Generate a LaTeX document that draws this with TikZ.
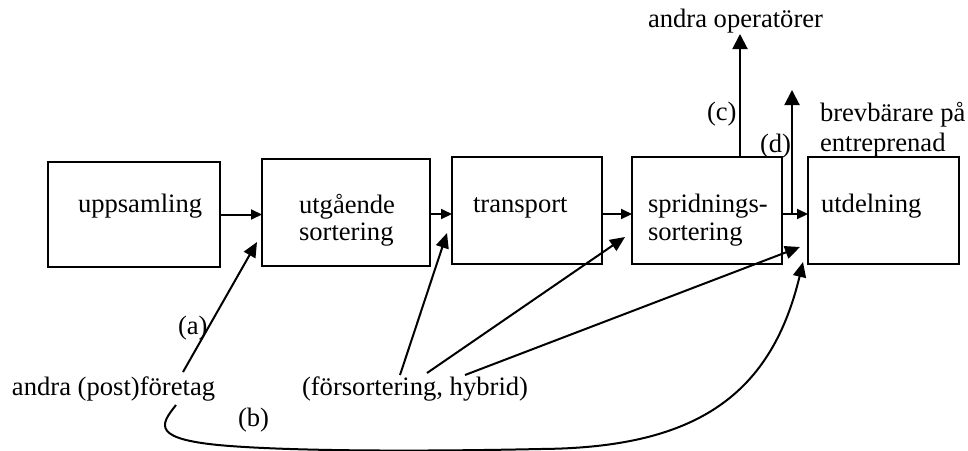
\documentclass[tikz,border=0pt]{standalone}
\usepackage{fontspec}
\setmainfont{Liberation Serif}
\usetikzlibrary{arrows.meta}
\begin{document}
\begin{tikzpicture}[x=1pt,y=-1pt,
  every node/.style={font=\fontsize{26.6}{30}\selectfont},
  box/.style={draw,line width=2.2pt,inner sep=0pt,outer sep=0pt},
  lbl/.style={anchor=base west,inner sep=0pt,outer sep=0pt},
  flow/.style={line width=2pt,-{Triangle[length=11pt,width=10pt]}},
  feed/.style={line width=2pt,-{Triangle[length=15pt,width=13pt]}},
  branch/.style={line width=2pt,-{Triangle[length=15pt,width=15pt]}}]
\useasboundingbox (0,0) rectangle (968,450);

% process boxes
\node[box,minimum width=172pt,minimum height=105pt] (up)  at (134,214.5) {};
\node[box,minimum width=168pt,minimum height=107pt] (utg) at (346,212.5) {};
\node[box,minimum width=150pt,minimum height=107pt] (tra) at (527,210.5) {};
\node[box,minimum width=150pt,minimum height=107pt] (spr) at (707,210.5) {};
\node[box,minimum width=151pt,minimum height=107pt] (utd) at (883.5,210.5) {};

% box texts
\node[lbl] (t-up)  at (78,212)  {uppsamling};
\node[lbl] (t-utg) at (299,213) {utgående};
\node[lbl] (t-utg2) at (299,240) {sortering};
\node[lbl] (t-tra) at (473,212) {transport};
\node[lbl] (t-spr) at (648,212) {spridnings-};
\node[lbl] (t-spr2) at (648,240) {sortering};
\node[lbl] (t-utd) at (821,212) {utdelning};

% outside labels
\node[lbl] (ops)  at (648,27)  {andra operatörer};
\node[lbl] (brev) at (820,121) {brevbärare på};
\node[lbl] (entr) at (820,151) {entreprenad};
\node[lbl] (lc)   at (707,120) {(c)};
\node[lbl] (ld)   at (760,152) {(d)};
\node[lbl] (la)   at (178,334) {(a)};
\node[lbl] (lb)   at (238,426) {(b)};
\node[lbl] (post) at (12,395)  {andra (post)företag};
\node[lbl] (fors) at (302,395) {(försortering, hybrid)};

% main flow
\path (up.east)  coordinate (h1);
\path (utg.east) ++(0,1.5) coordinate (h2);
\path (tra.east) ++(0,3.5) coordinate (h3);
\path (spr.east) ++(0,3.5) coordinate (h4);
\draw[flow] (h1) -- (h1 -| utg.west);
\draw[flow] (h2) -- (h2 -| tra.west);
\draw[flow] (h3) -- (h3 -| spr.west);
\draw[flow] (h4) -- (h4 -| utd.west);

% branches to other operators (c) and contractors (d)
\coordinate (c0) at (740,157);
\coordinate (c1) at (740,34);
\coordinate (d0) at (792,214);
\coordinate (d1) at (792,90);
\draw[branch] (c0) -- (c1);
\draw[branch] (d0) -- (d1);

% entries from other companies (a), (b)
\coordinate (a0) at (183,372);
\coordinate (a1) at (257,242);
\draw[feed] (a0) -- (a1);
\coordinate (b0) at (176,405);
\coordinate (b1) at (803,262);
\draw[feed] (b0) .. controls (160,425) and (150,440) .. (230,446)
  .. controls (310,452) and (450,451) .. (540,449)
  .. controls (690,448) and (770,400) .. (b1);

% presorting / hybrid entries
\coordinate (f1) at (400,375);
\coordinate (f2) at (427,373);
\coordinate (f3) at (465,375);
\coordinate (e1) at (447,233);
\coordinate (e2) at (625,237);
\coordinate (e3) at (800,247);
\draw[feed] (f1) -- (e1);
\draw[feed] (f2) -- (e2);
\draw[feed] (f3) -- (e3);
\end{tikzpicture}
\end{document}
